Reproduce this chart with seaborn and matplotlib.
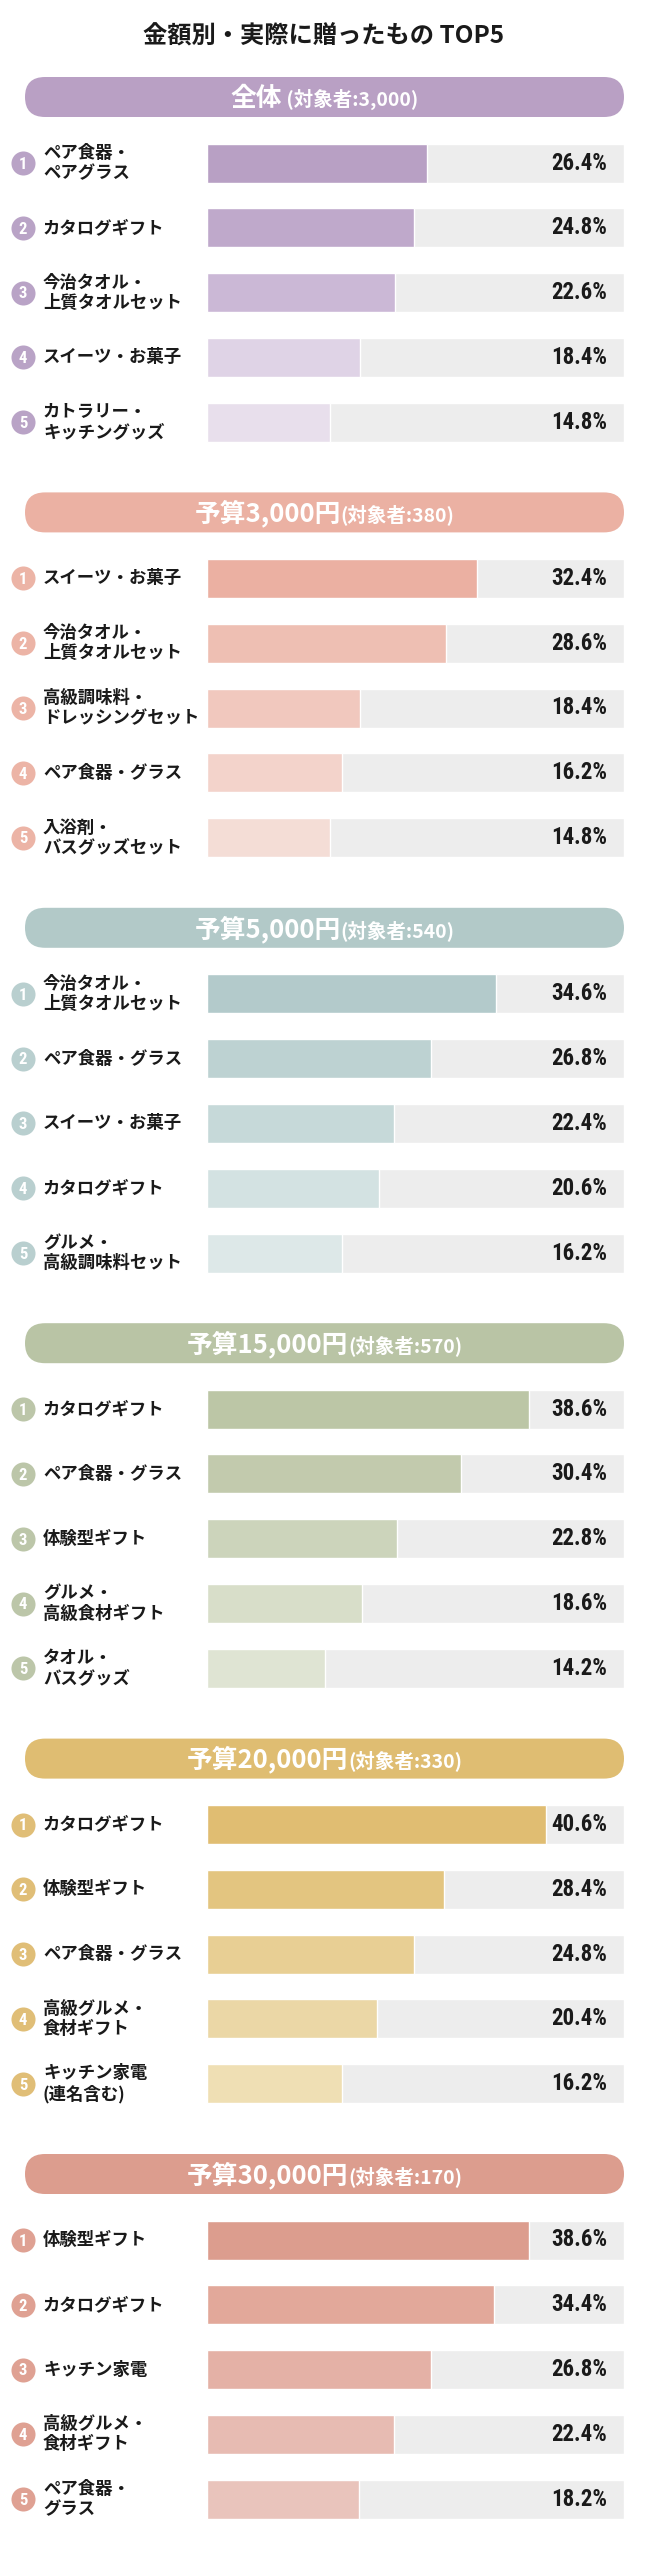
import matplotlib
matplotlib.use('Agg')
import matplotlib.pyplot as plt
import matplotlib.transforms as mtransforms
from matplotlib.patches import FancyBboxPatch
from matplotlib import font_manager as fm
import pandas as pd
import seaborn as sns

# ---- data ----
chart_title = '金額別・実際に贈ったもの TOP5'
section_titles = ['全体', '予算3,000円', '予算5,000円', '予算15,000円', '予算20,000円', '予算30,000円']
section_counts = ['3,000', '380', '540', '570', '330', '170']
ranks = ['1', '2', '3', '4', '5']

items_all = ['ペア食器・\nペアグラス', 'カタログギフト', '今治タオル・\n上質タオルセット',
             'スイーツ・お菓子', 'カトラリー・\nキッチングッズ']
values_all = [26.4, 24.8, 22.6, 18.4, 14.8]

items_3000 = ['スイーツ・お菓子', '今治タオル・\n上質タオルセット', '高級調味料・\nドレッシングセット',
              'ペア食器・グラス', '入浴剤・\nバスグッズセット']
values_3000 = [32.4, 28.6, 18.4, 16.2, 14.8]

items_5000 = ['今治タオル・\n上質タオルセット', 'ペア食器・グラス', 'スイーツ・お菓子',
              'カタログギフト', 'グルメ・\n高級調味料セット']
values_5000 = [34.6, 26.8, 22.4, 20.6, 16.2]

items_15000 = ['カタログギフト', 'ペア食器・グラス', '体験型ギフト',
               'グルメ・\n高級食材ギフト', 'タオル・\nバスグッズ']
values_15000 = [38.6, 30.4, 22.8, 18.6, 14.2]

items_20000 = ['カタログギフト', '体験型ギフト', 'ペア食器・グラス',
               '高級グルメ・\n食材ギフト', 'キッチン家電\n(連名含む)']
values_20000 = [40.6, 28.4, 24.8, 20.4, 16.2]

items_30000 = ['体験型ギフト', 'カタログギフト', 'キッチン家電',
               '高級グルメ・\n食材ギフト', 'ペア食器・\nグラス']
values_30000 = [38.6, 34.4, 26.8, 22.4, 18.2]

section_items = [items_all, items_3000, items_5000, items_15000, items_20000, items_30000]
section_values = [values_all, values_3000, values_5000, values_15000, values_20000, values_30000]

# ---- colours ----
header_colors = ['#b9a0c4', '#ebb1a3', '#b2c9c8', '#b9c4a5', '#dfbd72', '#dc9d8e']
circle_colors = ['#b9a3c6', '#ecb4a6', '#b9cfcf', '#bcc6a9', '#e0be77', '#dfa193']
bar_palettes = [
    ['#b8a0c4', '#bfa9cb', '#cbb8d6', '#dfd3e6', '#e8dfec'],
    ['#ebb0a2', '#eebfb3', '#f1c8be', '#f3d3cb', '#f4ddd6'],
    ['#b3cacb', '#bdd2d2', '#c6d9d9', '#d3e2e2', '#dde8e8'],
    ['#bcc6a6', '#c2caad', '#ccd4bb', '#d8dec9', '#dfe4d3'],
    ['#e0bd72', '#e3c580', '#e8cf94', '#ebd7a6', '#efdfb4'],
    ['#dc9d8e', '#e2a89a', '#e4b1a6', '#e7bbb2', '#e9c4bc'],
]
track_color = '#ededed'
text_color = '#1a1a1a'

# ---- layout (pixels) ----
W, H = 648, 2560
PILL_Y0, SECTION_STEP, PILL_H = 97, 415.4, 40
PILL_X0, PILL_X1 = 25, 624
ROW_OFF, ROW_STEP, BAR_H = 66, 64.8, 39
BAR_X0, BAR_X1 = 207, 624
XMAX = 50


def fx(px):
    return px / W


def fy(py):
    return 1 - py / H


def narrow_font():
    # look for a condensed face for the numbers, else fall back to Roboto
    candidates = [('Liberation Sans Narrow', 'normal'), ('Roboto Condensed', 'normal'),
                  ('DejaVu Sans', 'condensed'), ('Open Sans', 'condensed')]
    for fam, stretch in candidates:
        prop = fm.FontProperties(family=fam, weight='bold', stretch=stretch)
        try:
            path = fm.findfont(prop, fallback_to_default=False)
        except ValueError:
            continue
        name = path.lower()
        if 'narrow' in name or 'condensed' in name:
            return prop
    return fm.FontProperties(family='Roboto', weight='bold')


sns.set_style('white')
plt.rcParams['font.family'] = ['Noto Sans CJK JP', 'DejaVu Sans']
num_prop = narrow_font()

fig = plt.figure(figsize=(W / 100, H / 100), dpi=100)
fig.patch.set_facecolor('white')

fig.text(0.5, fy(37), chart_title, ha='center', va='center',
         fontsize=17.5, fontweight='bold', color=text_color)

renderer = fig.canvas.get_renderer()

for k in range(6):
    pc = PILL_Y0 + SECTION_STEP * k

    # header pill
    pw = PILL_X1 - PILL_X0
    hax = fig.add_axes([fx(PILL_X0), fy(pc + PILL_H / 2), pw / W, PILL_H / H])
    hax.set_xlim(0, pw)
    hax.set_ylim(0, PILL_H)
    hax.axis('off')
    hax.add_patch(FancyBboxPatch((0, 0), pw, PILL_H,
                                 boxstyle='round,pad=0,rounding_size=20',
                                 fc=header_colors[k], ec='none', clip_on=False))
    sub = ' (対象者:%s)' % section_counts[k] if k == 0 else '(対象者:%s)' % section_counts[k]
    t1 = hax.text(0, 11, section_titles[k], ha='left', va='baseline',
                  fontsize=18.5, fontweight='bold', color='white')
    t2 = hax.text(0, 11, sub, ha='left', va='baseline',
                  fontsize=14, fontweight='bold', color='white')
    w1 = t1.get_window_extent(renderer).width
    w2 = t2.get_window_extent(renderer).width
    x_start = pw / 2 - (w1 + w2) / 2
    t1.set_x(x_start)
    t2.set_x(x_start + w1)

    # bars
    yc1 = pc + ROW_OFF
    top = yc1 - ROW_STEP / 2
    ax = fig.add_axes([fx(BAR_X0), fy(top + 5 * ROW_STEP), (BAR_X1 - BAR_X0) / W, 5 * ROW_STEP / H])
    df = pd.DataFrame({'rank': ranks, 'item': section_items[k], 'value': section_values[k]})

    sns.barplot(x=[XMAX] * len(ranks), y=ranks, orient='h', color=track_color,
                saturation=1, width=BAR_H / ROW_STEP, ax=ax, errorbar=None)
    sns.barplot(data=df, x='value', y='rank', hue='rank', palette=bar_palettes[k],
                orient='h', saturation=1, width=BAR_H / ROW_STEP, legend=False,
                ax=ax, errorbar=None)
    ax.set_xlim(0, XMAX)
    ax.set_ylim(4.5, -0.5)
    ax.axis('off')

    tr = mtransforms.blended_transform_factory(fig.transFigure, ax.transData)
    pos = list(range(len(df)))
    ax.scatter([fx(23)] * len(pos), pos, s=300, color=circle_colors[k], linewidths=0,
               transform=tr, clip_on=False, zorder=3)
    for i, row in df.iterrows():
        ax.text(fx(23), i + 0.02, row['rank'], transform=tr, ha='center', va='center',
                fontproperties=num_prop, fontsize=12, color='white',
                zorder=4, clip_on=False)
        ax.text(fx(43), i, row['item'], transform=tr, ha='left', va='center',
                fontsize=12.5, fontweight='bold', color=text_color, linespacing=1.15,
                clip_on=False)
        ax.text(fx(607), i, '%.1f%%' % row['value'], transform=tr, ha='right', va='center',
                fontproperties=num_prop, fontsize=16.5, color=text_color,
                clip_on=False)
    ax.set_xlim(0, XMAX)
    ax.set_ylim(4.5, -0.5)

fig.savefig('out.png', dpi=100, facecolor='white')
